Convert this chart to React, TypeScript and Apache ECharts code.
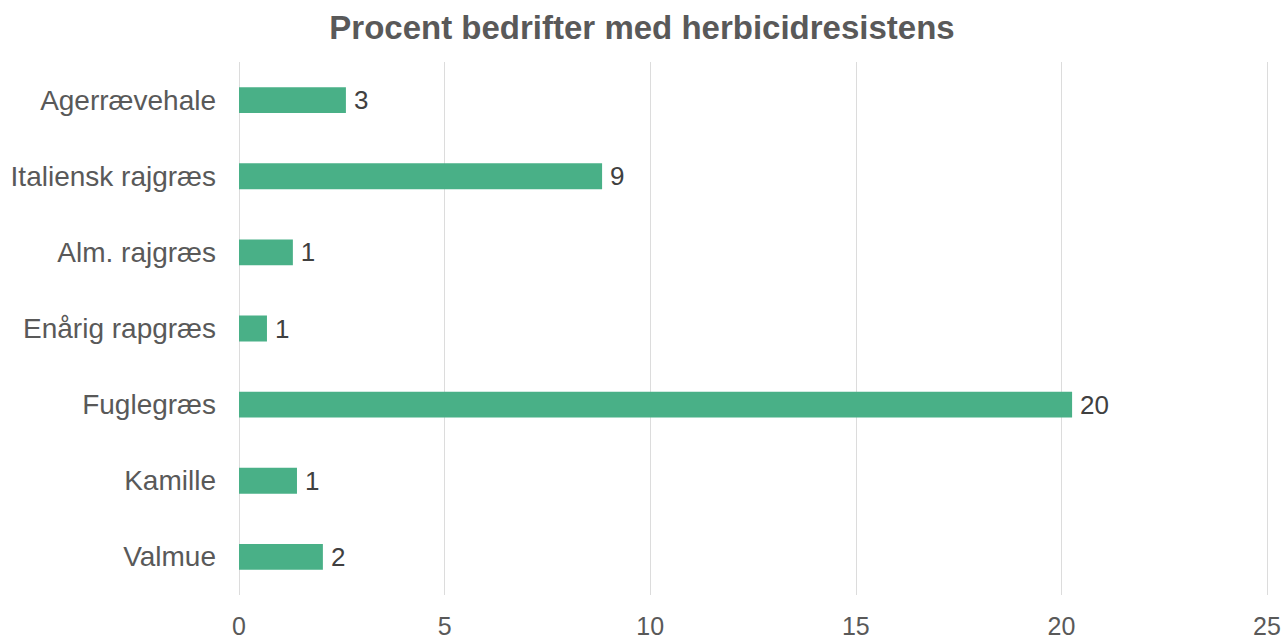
import React, { useEffect, useRef } from "react";
import * as echarts from "echarts";

const categories = [
  "Agerrævehale",
  "Italiensk rajgræs",
  "Alm. rajgræs",
  "Enårig rapgræs",
  "Fuglegræs",
  "Kamille",
  "Valmue",
];
const values = [2.6, 8.83, 1.31, 0.68, 20.26, 1.41, 2.04];
const title = "Procent bedrifter med herbicidresistens";

export default function App() {
  const ref = useRef<HTMLDivElement>(null);
  useEffect(() => {
    document.body.style.margin = "0";
    const chart = echarts.init(ref.current!, null, { renderer: "svg" });
    chart.setOption({
      animation: false,
      backgroundColor: "#ffffff",
      title: {
        text: title,
        left: "center",
        top: 6,
        textStyle: {
          fontFamily: "Liberation Sans, Arial, sans-serif",
          fontSize: 33,
          fontWeight: "bold",
          color: "#595959",
        },
      },
      grid: { left: 239, right: 17, top: 62, bottom: 45, containLabel: false },
      xAxis: {
        type: "value",
        min: 0,
        max: 25,
        interval: 5,
        axisLine: { show: false },
        axisTick: { show: false },
        splitLine: { show: true, lineStyle: { color: "#dcdcdc", width: 1 } },
        axisLabel: {
          fontFamily: "Liberation Sans, Arial, sans-serif",
          fontSize: 25,
          color: "#595959",
          margin: 18,
        },
      },
      yAxis: {
        type: "category",
        data: categories,
        inverse: true,
        axisLine: { show: false },
        axisTick: { show: false },
        splitLine: { show: false },
        axisLabel: {
          fontFamily: "Liberation Sans, Arial, sans-serif",
          fontSize: 28,
          color: "#595959",
          margin: 23,
        },
      },
      series: [
        {
          type: "bar",
          data: values,
          barWidth: "34%",
          itemStyle: { color: "#49B087" },
          label: {
            show: true,
            position: "right",
            distance: 8,
            formatter: (p: any) => String(Math.round(p.value)),
            fontFamily: "Liberation Sans, Arial, sans-serif",
            fontSize: 26,
            color: "#404040",
          },
        },
      ],
    });
    return () => chart.dispose();
  }, []);
  return <div ref={ref} style={{ width: 1284, height: 640 }} />;
}
